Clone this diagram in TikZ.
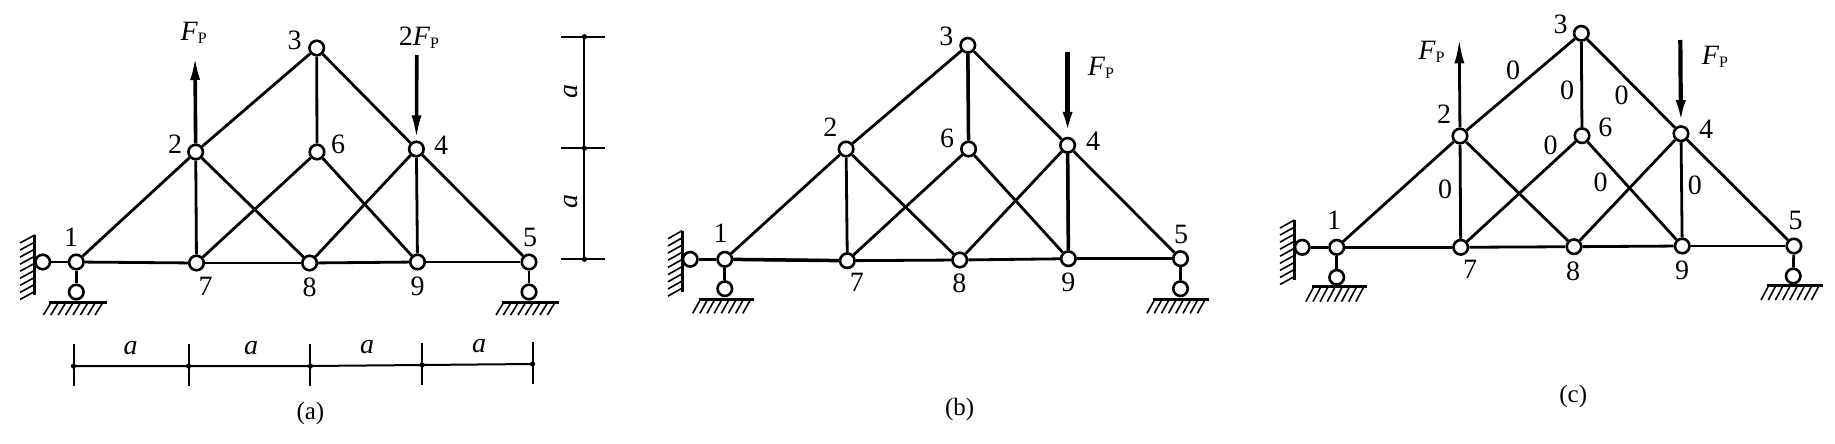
\documentclass[tikz,border=0pt]{standalone}
\usepackage{fontspec}
\setmainfont{Liberation Serif}
\usetikzlibrary{arrows.meta}
\newcommand{\myFP}{\textit{F}{\fontsize{16}{16}\selectfont\raisebox{-3pt}{P}}}
\tikzset{
  joint/.style={circle,draw=black,fill=white,line width=2.6pt,inner sep=0pt,minimum size=14.5pt},
  member/.style={line width=2.8pt,black},
  heavy/.style={line width=3.5pt,black},
  force/.style={line width=3.6pt,black,-{Latex[length=24pt,width=10pt]},shorten >=1pt},
  dimline/.style={line width=2pt,black},
  hatchline/.style={line width=1.6pt,black},
  numlabel/.style={font=\fontsize{28}{28}\selectfont,inner sep=0pt},
  dimlabel/.style={font=\fontsize{28}{28}\selectfont\itshape,inner sep=0pt},
  caplabel/.style={font=\fontsize{25}{25}\selectfont,inner sep=0pt},
  forcelabel/.style={font=\fontsize{28}{28}\selectfont,inner sep=0pt}
}
% #1 prefix
\newcommand{\trussmembers}[1]{%
  \foreach \p/\q in {1/2,2/3,3/4,4/5,3/6,2/7,4/9,2/8,6/7,6/9,4/8,1/7,7/8,8/9,9/5,L/1,1/B,5/C}{
    \draw[member] (#1\p) -- (#1\q);
  }%
}
% ground: x1,x2,y,y2
\newcommand{\grnd}[4]{%
  \draw[line width=3pt] (#1,#3) -- (#2,#3);
  \foreach \t in {0,...,7}{
    \draw[hatchline] ({#1+2+\t*(#2-#1-2)/7.5},#3) -- ({#1-6+\t*(#2-#1-2)/7.5},#4);
  }%
}
% wall: x,x2,y1,y2
\newcommand{\wallsup}[4]{%
  \draw[line width=3pt] (#1,#3) -- (#1,#4);
  \foreach \t in {0,...,8}{
    \draw[hatchline] (#1,{#3+\t*(#4-#3)/8.5}) -- (#2,{#3+8+\t*(#4-#3)/8.5});
  }%
}
\begin{document}
\begin{tikzpicture}[x=1pt,y=-1pt]
\useasboundingbox (0,0) rectangle (1835,444);
\fill[white] (0,0) rectangle (1835,444);

% ---------- (a)
\foreach \n/\x/\y in {1/76.3/262,2/195.7/152,3/316.7/48,4/416.4/149,5/529/262,6/317/152,7/196.5/263,8/309.6/263,9/417.5/262,L/42.7/262,B/76.3/292,C/529/292}{
  \node[joint] (a\n) at (\x,\y) {};
}
\trussmembers{a}
\grnd{49.4}{106.8}{302}{315}
\grnd{502}{559}{302}{315}
\wallsup{34.8}{20}{235}{295}
\coordinate (aFu) at (195,55);
\coordinate (aFd) at (416.8,55);
\draw[force] (a2) -- (aFu);
\draw[force] (aFd) -- (a4);
\node[forcelabel] (aF1) at (193.7,33) {\myFP};
\node[forcelabel] (aF2) at (419,38) {2\myFP};
\foreach \n/\t/\x/\y in {n3/3/294.6/40.7,n2/2/175/144,n6/6/338/144,n4/4/441/145,n1/1/71/237,n5/5/530/237,n7/7/205.6/286.7,n8/8/309.6/287,n9/9/417.5/286.7}{
  \node[numlabel] (a\n) at (\x,\y) {\t};
}
% dimensions
\coordinate (dv1) at (584.4,36.7);
\coordinate (dv2) at (584.4,148.3);
\coordinate (dv3) at (584.4,259.3);
\draw[dimline] (dv1) -- (dv2) -- (dv3);
\foreach \c in {dv1,dv2,dv3}{
  \draw[dimline] ([xshift=-23pt]\c) -- ([xshift=21pt]\c);
  \fill (\c) circle (2.6pt);
}
\node[dimlabel,rotate=90] (dva1) at (570.6,91.7) {a};
\node[dimlabel,rotate=90] (dva2) at (570.6,201) {a};
\coordinate (dh1) at (73.5,366);
\coordinate (dh2) at (188.6,366);
\coordinate (dh3) at (310.4,366);
\coordinate (dh4) at (422.3,365);
\coordinate (dh5) at (532.6,364);
\draw[dimline] (dh1) -- (dh2) -- (dh3) -- (dh4) -- (dh5);
\foreach \c in {dh1,dh2,dh3,dh4,dh5}{
  \draw[dimline] ([yshift=-20pt]\c) -- ([yshift=22pt]\c);
  \fill (\c) circle (2.6pt);
}
\foreach \n/\x/\y in {1/130.5/348,2/251/348,3/367/347,4/479/346}{
  \node[dimlabel] (dha\n) at (\x,\y) {a};
}
\node[caplabel] (capa) at (310.4,413) {(a)};

% ---------- (b)
\foreach \n/\x/\y in {1/724.8/259.3,2/846.1/149,3/967.8/45.3,4/1067.6/145.3,5/1180.5/258.7,6/968.6/149,7/847.3/260.7,8/959.7/260,9/1068.4/258.7,L/690.2/259.3,B/724.8/288.7,C/1180.5/288.7}{
  \node[joint] (b\n) at (\x,\y) {};
}
\trussmembers{b}
\draw[heavy] (b1) -- (b7);
\draw[heavy] (b4) -- (b9);
\draw[heavy] (b3) -- (b6);
\grnd{698.7}{754.4}{299}{313.3}
\grnd{1153}{1209}{299}{313.3}
\wallsup{682.2}{668}{230.7}{291.7}
\coordinate (bFd) at (1067.6,51.7);
\draw[force,line width=4.4pt] (bFd) -- (b4);
\node[forcelabel] (bF) at (1101,68.3) {\myFP};
\foreach \n/\t/\x/\y in {n3/3/946.3/36,n2/2/830.4/127.3,n6/6/947/138.3,n4/4/1093/141.7,n1/1/720.6/233.3,n5/5/1181.2/234.3,n7/7/856.9/282.7,n8/8/959.3/283.3,n9/9/1068.4/282.7}{
  \node[numlabel] (b\n) at (\x,\y) {\t};
}
\node[caplabel] (capb) at (959.7,409.3) {(b)};

% ---------- (c)
\foreach \n/\x/\y in {1/1336.7/247.3,2/1460/136,3/1581.3/33.3,4/1681/133.7,5/1793.9/246,6/1582/135.7,7/1460.7/247.3,8/1574/246.7,9/1682.2/246,L/1302.2/247.3,B/1336.7/277.3,C/1793.2/276}{
  \node[joint] (c\n) at (\x,\y) {};
}
\trussmembers{c}
\grnd{1311.8}{1367.4}{286.7}{301.7}
\grnd{1767}{1823}{285}{300}
\wallsup{1294.5}{1280}{220}{280}
\coordinate (cFu) at (1459.2,38.3);
\coordinate (cFd) at (1680.3,40);
\draw[force,line width=2.8pt] (c2) -- (cFu);
\draw[force,line width=4.2pt] (cFd) -- (c4);
\node[forcelabel] (cF1) at (1431.5,51.7) {\myFP};
\node[forcelabel] (cF2) at (1715,56.7) {\myFP};
\foreach \n/\t/\x/\y in {n3/3/1560.5/24,n2/2/1444.2/114,n6/6/1605.4/127.3,n4/4/1706/129.3,n1/1/1334/220.7,n5/5/1795.5/220.7,n7/7/1470/269.3,n8/8/1573.2/271.7,n9/9/1682.2/270}{
  \node[numlabel] (c\n) at (\x,\y) {\t};
}
\foreach \n/\x/\y in {1/1513/70,2/1567/90.7,3/1621.6/95,4/1550.5/145.7,5/1600.5/182.7,6/1694.9/185,7/1445/189}{
  \node[numlabel] (cz\n) at (\x,\y) {0};
}
\node[caplabel] (capc) at (1573.2,396.7) {(c)};
\end{tikzpicture}
\end{document}
